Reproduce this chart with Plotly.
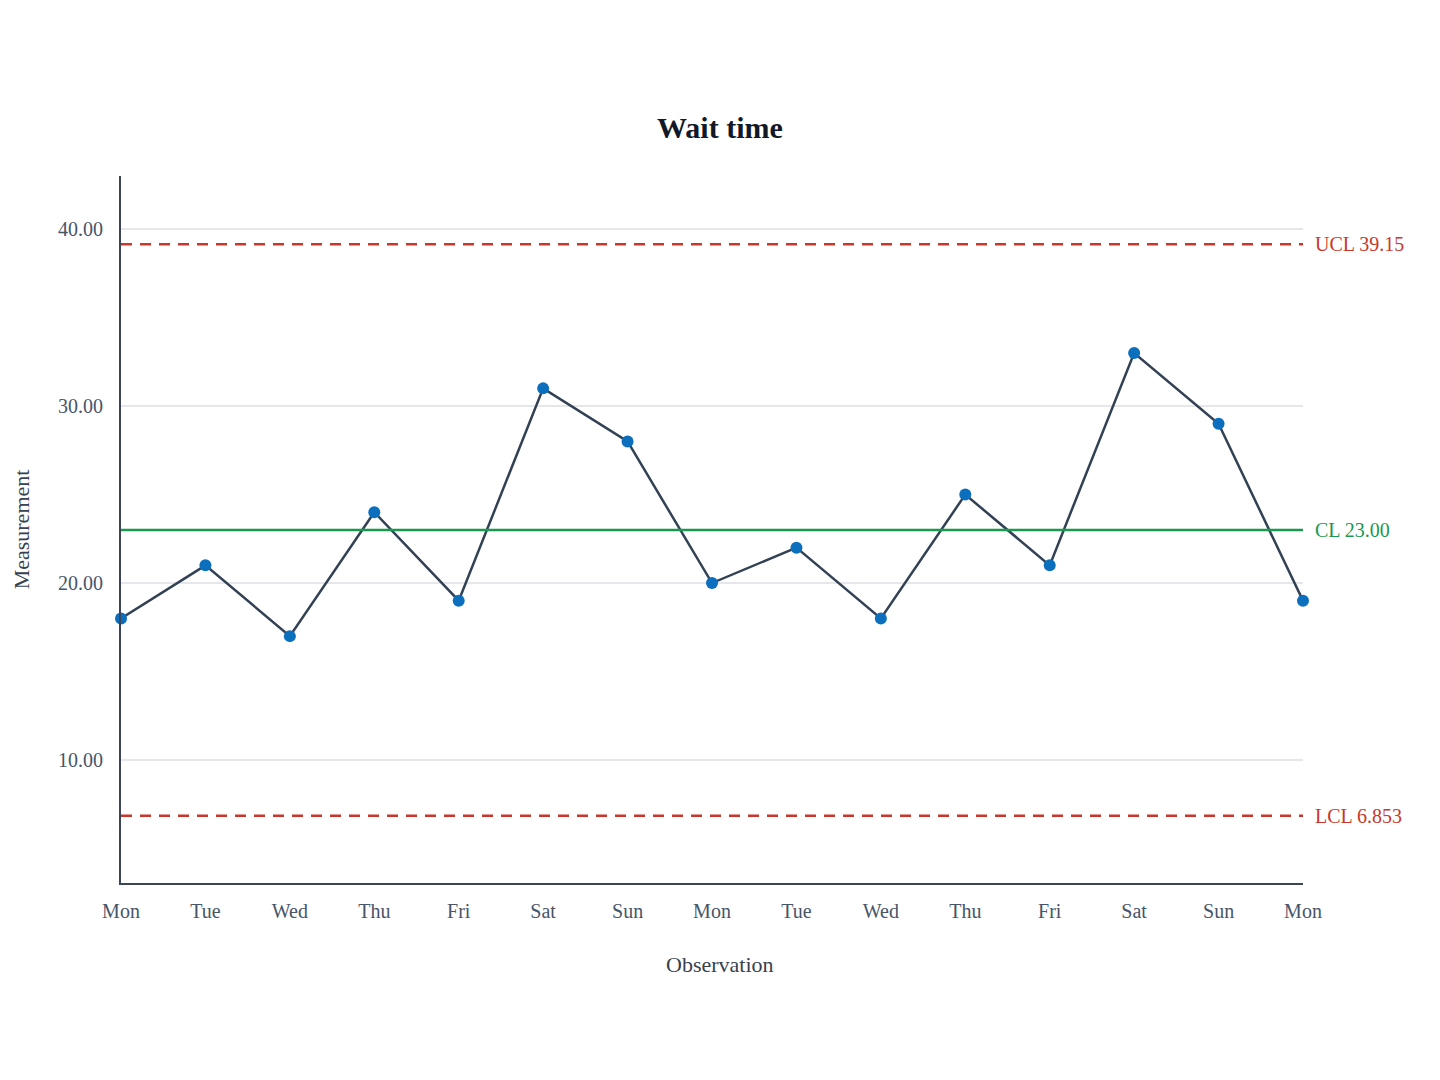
import plotly.graph_objects as go

days = ['Mon', 'Tue', 'Wed', 'Thu', 'Fri', 'Sat', 'Sun',
        'Mon', 'Tue', 'Wed', 'Thu', 'Fri', 'Sat', 'Sun', 'Mon']
wait_times = [18, 21, 17, 24, 19, 31, 28, 20, 22, 18, 25, 21, 33, 29, 19]
center_line = 23.00
upper_limit = 39.15
lower_limit = 6.853
y_ticks = [10, 20, 30, 40]

idx = list(range(len(days)))

fig = go.Figure()

fig.add_trace(go.Scatter(
    x=idx,
    y=wait_times,
    mode='lines+markers',
    line=dict(color='#334155', width=2.5),
    marker=dict(color='#0b6fbd', size=12),
    showlegend=False,
    cliponaxis=False,
    hovertemplate='%{text}: %{y}<extra></extra>',
    text=days
))

# control limit lines
fig.add_hline(y=upper_limit, line=dict(color='#c9372c', width=2.5, dash='11px,8px'))
fig.add_hline(y=center_line, line=dict(color='#1a9850', width=2.5))
fig.add_hline(y=lower_limit, line=dict(color='#c9372c', width=2.5, dash='11px,8px'))

for val, label, color in [
    (upper_limit, f'UCL {upper_limit:.2f}', '#c9372c'),
    (center_line, f'CL {center_line:.2f}', '#1a9850'),
    (lower_limit, f'LCL {lower_limit:.4g}', '#c9372c'),
]:
    fig.add_annotation(
        x=1, xref='paper', xanchor='left', xshift=10,
        y=val, yref='y', yanchor='middle',
        text=label, showarrow=False,
        font=dict(color=color, size=20)
    )

# x axis title, centred on the page like the original
fig.add_annotation(
    x=0.5, xref='paper', xanchor='center', xshift=8,
    y=0, yref='paper', yanchor='middle', yshift=-81,
    text='Observation', showarrow=False,
    font=dict(size=22, color='#374151')
)

fig.update_layout(
    width=1440,
    height=1080,
    template='plotly_white',
    font=dict(family='Liberation Serif, Times New Roman, serif', size=20, color='#475569'),
    title=dict(text='<b>Wait time</b>', x=0.4944, xanchor='center',
               y=0.889, yanchor='middle',
               font=dict(size=30, color='#111827')),
    margin=dict(l=113, r=145, t=168, b=205),
    plot_bgcolor='white',
    paper_bgcolor='white',
)

fig.update_xaxes(
    range=[0, len(days) - 1],
    tickvals=idx,
    ticktext=days,
    showgrid=False,
    zeroline=False,
    showline=True,
    linecolor='#3b4557',
    linewidth=2,
    ticks='outside',
    ticklen=9,
    tickcolor='rgba(0,0,0,0)',
)

fig.update_yaxes(
    range=[3.05, 43],
    tickvals=y_ticks,
    tickformat='.2f',
    showgrid=True,
    gridcolor='#e5e7eb',
    gridwidth=1.5,
    zeroline=False,
    showline=True,
    linecolor='#3b4557',
    linewidth=2,
    ticks='outside',
    ticklen=12,
    tickcolor='rgba(0,0,0,0)',
    title=dict(text='Measurement', font=dict(size=22, color='#374151'), standoff=22)
)

fig.write_html('out.html')
